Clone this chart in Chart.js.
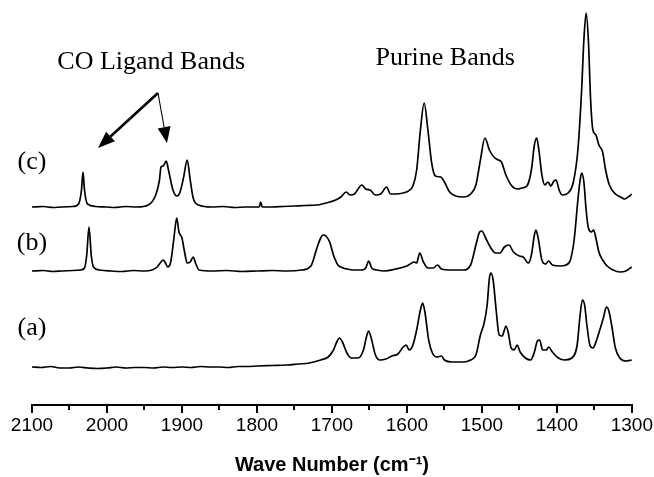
<!DOCTYPE html>
<html>
<head>
<meta charset="utf-8">
<script src="https://cdn.jsdelivr.net/npm/chart.js@4.4.1/dist/chart.umd.min.js"></script>
<style>
  html, body { margin: 0; padding: 0; background: #ffffff; }
  #wrap { width: 654px; height: 477px; position: relative; }
</style>
</head>
<body>
<div id="wrap"><canvas id="chart" width="654" height="477"></canvas></div>
<script>
// ---- Data (wave number in cm^-1, intensity in arbitrary offset units) ----
const xTickValues = [2100, 2000, 1900, 1800, 1700, 1600, 1500, 1400, 1300];
const seriesLabels = ['(a)', '(b)', '(c)'];

const cWave = [2100,2085,2072,2060,2045,2038,2034,2032,2030,2026,2015,2000,1990,1975,1960,1945,1935,1930,1928,1925,1921,1918,1912,1907,1903,1898,1893,1889,1885,1878,1860,1845,1830,1815,1800,1797,1795,1793,1780,1765,1750,1735,1720,1703,1695,1688,1681,1676,1670,1660,1655,1649,1642,1635,1627,1622,1615,1605,1598,1592,1587,1582,1577,1572,1567,1562,1555,1550,1543,1535,1525,1515,1508,1502,1496,1490,1484,1478,1474,1468,1460,1452,1447,1440,1434,1430,1427,1424,1420,1416,1412,1408,1404,1401,1397,1393,1385,1378,1372,1367,1364,1361,1358,1355,1352,1348,1344,1339,1335,1330,1322,1315,1310,1305,1300];
const cVal  = [198,198.5,197.5,198,198.5,201,215,233,215,201,198.5,198,197.5,198.5,198,200,210,225,238,239,244,235,215,209,212,227,245,225,207,200,198,198.5,197.5,198,198,198,203,198,198,198.5,199,199.5,200,203,205,208,213,210,211,220,216,215,210,211,218,211,211,212,214,219,235,275,302,275,242,229,228,223,213,209,208,211,220,245,267,255,248,245,243,230,219,216,217,219,235,260,267,255,230,220,223,219,224,225,215,210,212,223,255,315,365,392,365,305,275,270,260,253,235,220,211,208,206,208,211];

const bWave = [2100,2085,2072,2060,2045,2035,2030,2027,2024,2021,2018,2010,1995,1980,1965,1950,1940,1933,1928,1925,1922,1919,1915,1911,1907,1904,1900,1897,1893,1889,1885,1882,1877,1860,1840,1820,1800,1780,1760,1740,1728,1720,1715,1712,1708,1703,1698,1692,1685,1680,1672,1660,1655,1651,1647,1640,1630,1615,1600,1590,1587,1583,1578,1572,1565,1559,1554,1540,1525,1515,1508,1503,1500,1495,1488,1482,1476,1470,1464,1458,1450,1445,1438,1434,1430,1428,1425,1420,1415,1411,1406,1395,1388,1382,1377,1372,1369,1367,1364,1361,1358,1354,1351,1348,1344,1339,1333,1325,1316,1308,1300];
const bVal  = [134,134.5,133.5,134,134.5,135,137,150,178,150,138,135,134,133.5,134.5,134,135,138,143,145,142,138,143,165,187,173,167,155,142,143,148,142,135,134,134.5,133.5,134,134.5,134,135,139,157,167,170,169,163,150,140,137,136,135,135,137,144,137,135,134,136,139,143,142,152,143,137,137,140,136,135,135,140,160,173,174,167,157,152,152,158,160,153,149,148,142,150,170,175,167,145,141,144,140,139,140,145,165,205,225,232,223,195,177,173,175,167,153,145,139,135,133,134,138];

const aWave = [2100,2088,2075,2063,2050,2038,2025,2013,2000,1988,1975,1963,1950,1938,1925,1913,1900,1888,1875,1863,1850,1838,1825,1813,1800,1780,1760,1745,1730,1715,1705,1698,1693,1690,1686,1680,1674,1665,1658,1654,1651,1647,1642,1636,1628,1620,1612,1605,1601,1597,1592,1587,1582,1579,1576,1571,1566,1560,1554,1550,1540,1525,1515,1508,1502,1497,1493,1490,1488,1485,1481,1477,1473,1470,1468,1465,1461,1457,1453,1449,1442,1435,1430,1426,1423,1419,1414,1411,1406,1398,1390,1380,1373,1369,1366,1363,1360,1356,1352,1347,1342,1338,1334,1331,1327,1322,1316,1308,1300];
const aVal  = [38,37.5,38.5,37,37,38,37,36.5,37,38,37,37.5,37.5,37,38,37.5,38,37.5,38.5,38,38,37.5,38.5,38.5,39,39.5,40,41,42,45,48,55,64,67,63,52,47,47,55,68,74,65,50,45,46,49,51,58,60,55,60,75,95,102,93,65,52,48,49,45,43,43,45,50,70,82,100,127,132,125,95,70,69,75,79,73,57,55,60,53,47,45,53,64,65,55,55,58,53,47,45,47,60,90,105,100,80,60,57,65,77,87,98,95,80,57,47,44,45];

// ---- Build datasets from the arrays ----
function pts(w, v) { return w.map((x, i) => ({ x: x, y: v[i] })); }
const seriesWaves = [aWave, bWave, cWave];
const seriesVals = [aVal, bVal, cVal];

const datasets = seriesLabels.map((lab, i) => ({
  label: lab,
  data: pts(seriesWaves[i], seriesVals[i]),
  borderColor: '#000000',
  borderWidth: 1.7,
  pointRadius: 0,
  cubicInterpolationMode: 'monotone',
  fill: false
}));

// ---- Annotation plugin: minor ticks, labels, arrows ----
const annotations = {
  traceLabels: [ { text: '(c)', x: 2100, y: 243 }, { text: '(b)', x: 2100, y: 162 }, { text: '(a)', x: 2100, y: 77 } ],
  headers: [ { text: 'CO Ligand Bands', x: 1941, y: 343 }, { text: 'Purine Bands', x: 1549, y: 347 } ],
  arrows: [
    { from: [1932, 312], to: [2012, 257], width: 2.6, head: 17, headW: 13 },
    { from: [1932, 312], to: [1920, 262], width: 1.1, head: 16, headW: 13 }
  ],
  minorTicks: [2050, 1950, 1850, 1750, 1650, 1550, 1450, 1350]
};

const annotatePlugin = {
  id: 'annotate',
  afterDraw(chart) {
    const ctx = chart.ctx;
    const xs = chart.scales.x, ys = chart.scales.y;
    ctx.save();
    // minor ticks
    ctx.strokeStyle = '#000';
    ctx.lineWidth = 2;
    const yAxis = chart.chartArea.bottom;
    annotations.minorTicks.forEach(v => {
      const px = Math.round(xs.getPixelForValue(v));
      ctx.beginPath();
      ctx.moveTo(px, yAxis);
      ctx.lineTo(px, yAxis + 5);
      ctx.stroke();
    });
    // text
    ctx.fillStyle = '#000';
    ctx.textAlign = 'center';
    ctx.textBaseline = 'middle';
    ctx.font = '26px "Liberation Serif", "Times New Roman", serif';
    annotations.traceLabels.concat(annotations.headers).forEach(t => {
      ctx.fillText(t.text, xs.getPixelForValue(t.x), ys.getPixelForValue(t.y));
    });
    // arrows
    annotations.arrows.forEach(a => {
      const x1 = xs.getPixelForValue(a.from[0]), y1 = ys.getPixelForValue(a.from[1]);
      const x2 = xs.getPixelForValue(a.to[0]), y2 = ys.getPixelForValue(a.to[1]);
      const ang = Math.atan2(y2 - y1, x2 - x1);
      const bx = x2 - a.head * Math.cos(ang), by = y2 - a.head * Math.sin(ang);
      ctx.lineWidth = a.width;
      ctx.beginPath();
      ctx.moveTo(x1, y1);
      ctx.lineTo(bx, by);
      ctx.stroke();
      const nx = -Math.sin(ang), ny = Math.cos(ang);
      ctx.beginPath();
      ctx.moveTo(x2, y2);
      ctx.lineTo(bx + nx * a.headW / 2, by + ny * a.headW / 2);
      ctx.lineTo(bx - nx * a.headW / 2, by - ny * a.headW / 2);
      ctx.closePath();
      ctx.fill();
    });
    ctx.restore();
  }
};

new Chart(document.getElementById('chart'), {
  type: 'line',
  data: { datasets: datasets },
  options: {
    responsive: false,
    animation: false,
    events: [],
    layout: { padding: { left: 32, right: 22, top: 5, bottom: 0 } },
    plugins: { legend: { display: false }, tooltip: { enabled: false } },
    scales: {
      x: {
        type: 'linear',
        reverse: true,
        min: 1300,
        max: 2100,
        afterBuildTicks: (scale) => { scale.ticks = xTickValues.map(v => ({ value: v })); },
        afterFit: (scale) => { scale.height = 72; },
        border: { display: true, color: '#000', width: 2 },
        grid: { drawOnChartArea: false, drawTicks: true, tickLength: 8, color: '#000', lineWidth: 2 },
        ticks: {
          color: '#000',
          padding: 1,
          maxRotation: 0,
          autoSkip: false,
          font: { family: '"Liberation Sans", Arial, sans-serif', size: 19 },
          callback: (v) => String(v)
        },
        title: {
          display: true,
          text: 'Wave Number (cm\u207B\u00B9)',
          color: '#000',
          padding: { top: 17, bottom: 0 },
          font: { family: '"Liberation Sans", Arial, sans-serif', size: 20, weight: 'bold' }
        }
      },
      y: {
        type: 'linear',
        display: false,
        min: 0,
        max: 400
      }
    }
  },
  plugins: [annotatePlugin]
});
</script>
</body>
</html>
